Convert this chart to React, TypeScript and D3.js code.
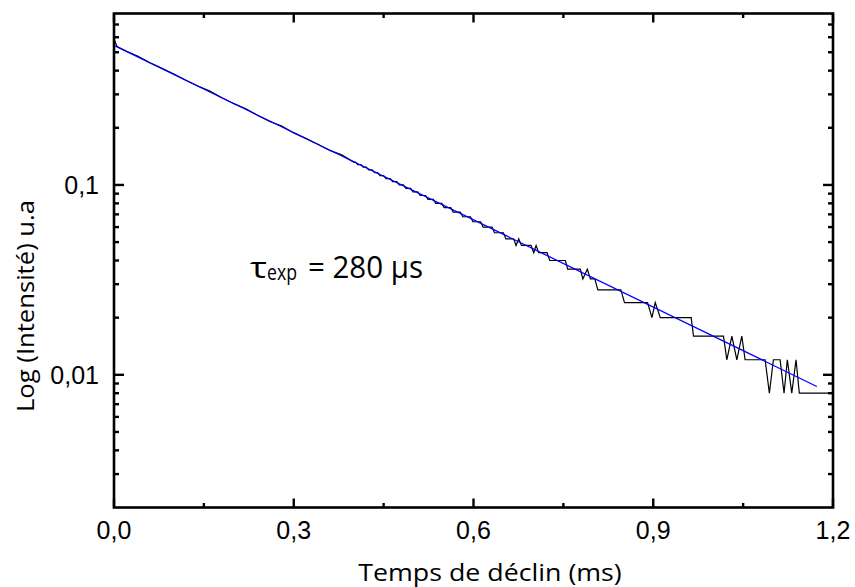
import React from "react";
import * as d3 from "d3";

// Measured decay (time in ms, normalised intensity)
const decayTime = [
  0, 0.005, 0.02, 0.04, 0.06, 0.08, 0.1, 0.12, 0.14, 0.16, 0.18, 0.2, 0.22, 0.24, 0.26, 0.28, 0.3,
  0.32, 0.34, 0.36, 0.38, 0.4, 0.403, 0.407, 0.412, 0.416, 0.421, 0.425, 0.431, 0.435, 0.44, 0.444,
  0.45, 0.454, 0.461, 0.465, 0.472, 0.476, 0.483, 0.487, 0.495, 0.499, 0.507, 0.511, 0.52, 0.524,
  0.533, 0.537, 0.547, 0.551, 0.562, 0.566, 0.578, 0.582, 0.595, 0.599, 0.612, 0.616, 0.631, 0.635,
  0.65, 0.654, 0.667, 0.671, 0.6755, 0.68, 0.696, 0.7005, 0.7045, 0.7088, 0.7228, 0.7272, 0.7533,
  0.7572, 0.7783, 0.7825, 0.79, 0.795, 0.8025, 0.8075, 0.846, 0.852, 0.8905, 0.8978, 0.9033, 0.9117,
  0.9633, 0.9672, 1.0172, 1.0228, 1.0312, 1.0395, 1.0478, 1.0533, 1.0867, 1.0938, 1.1005, 1.1117,
  1.1183, 1.1238, 1.1312, 1.1383, 1.1438, 1.2,
];
const decayIntensity = [
  0.588, 0.536, 0.508, 0.476, 0.44, 0.412, 0.384, 0.356, 0.332, 0.312, 0.288, 0.268, 0.252, 0.232,
  0.216, 0.204, 0.188, 0.176, 0.164, 0.152, 0.144, 0.132, 0.132, 0.128, 0.128, 0.124, 0.124, 0.12,
  0.12, 0.116, 0.116, 0.112, 0.112, 0.108, 0.108, 0.104, 0.104, 0.1, 0.1, 0.096, 0.096, 0.092,
  0.092, 0.088, 0.088, 0.084, 0.084, 0.08, 0.08, 0.076, 0.076, 0.072, 0.072, 0.068, 0.068, 0.064,
  0.064, 0.06, 0.06, 0.056, 0.056, 0.052, 0.052, 0.048, 0.052, 0.048, 0.048, 0.044, 0.048, 0.044,
  0.044, 0.04, 0.04, 0.036, 0.036, 0.032, 0.036, 0.032, 0.032, 0.028, 0.028, 0.024, 0.024, 0.02,
  0.024, 0.02, 0.02, 0.016, 0.016, 0.012, 0.016, 0.012, 0.016, 0.012, 0.012, 0.008, 0.012, 0.012,
  0.008, 0.012, 0.008, 0.012, 0.008, 0.008,
];

// Single-exponential fit (straight line on log axis)
const fitTime = [0, 1.173];
const fitIntensity = [0.543, 0.00868];

const xTicks = [0, 0.15, 0.3, 0.45, 0.6, 0.75, 0.9, 1.05, 1.2];
const xMajor = [0, 0.3, 0.6, 0.9, 1.2];
const xLabels = ["0,0", "0,3", "0,6", "0,9", "1,2"];
const yMajor = [0.01, 0.1];
const yLabels = ["0,01", "0,1"];
const yMinor = [
  0.003, 0.004, 0.005, 0.006, 0.007, 0.008, 0.009, 0.02, 0.03, 0.04, 0.05, 0.06, 0.07, 0.08, 0.09,
  0.2, 0.3, 0.4, 0.5, 0.6, 0.7,
];

const L = 114, R = 833, T = 13.5, B = 507.5;
const titleFont = "'Open Sans', Lato, sans-serif";

export default function App() {
  const x = d3.scaleLinear().domain([0, 1.2]).range([L, R]);
  const y = d3.scaleLog().domain([0.002, 0.8]).range([B, T]);

  const decay = decayTime.map((t, i) => [t, decayIntensity[i]] as [number, number]);
  const fit = fitTime.map((t, i) => [t, fitIntensity[i]] as [number, number]);
  const line = d3
    .line<[number, number]>()
    .x((d) => x(d[0]))
    .y((d) => y(d[1]));

  const tickW = 2.4;
  const isMajorX = (v: number) => xMajor.some((m) => Math.abs(m - v) < 1e-9);

  return (
    <svg
      width={855}
      height={587}
      style={{ position: "absolute", left: 0, top: 0, background: "#fff" }}
    >
      <rect x={0} y={0} width={855} height={587} fill="#fff" />
      {/* data */}
      <path d={line(decay) || ""} fill="none" stroke="#000" strokeWidth={1.2} strokeLinejoin="miter" />
      <path d={line(fit) || ""} fill="none" stroke="#0000ff" strokeWidth={1.3} />

      {/* x ticks bottom and top */}
      {xTicks.map((v) => {
        const len = isMajorX(v) ? 9 : 4.5;
        const px = x(v);
        return (
          <g key={"xt" + v}>
            <line x1={px} x2={px} y1={B} y2={B - len} stroke="#000" strokeWidth={tickW} />
            <line x1={px} x2={px} y1={T} y2={T + len} stroke="#000" strokeWidth={tickW} />
          </g>
        );
      })}
      {/* y ticks left and right */}
      {yMajor.map((v) => (
        <g key={"ym" + v}>
          <line x1={L} x2={L + 10} y1={y(v)} y2={y(v)} stroke="#000" strokeWidth={tickW} />
          <line x1={R} x2={R - 10} y1={y(v)} y2={y(v)} stroke="#000" strokeWidth={tickW} />
        </g>
      ))}
      {yMinor.map((v) => (
        <g key={"yn" + v}>
          <line x1={L} x2={L + 5} y1={y(v)} y2={y(v)} stroke="#000" strokeWidth={tickW} />
          <line x1={R} x2={R - 5} y1={y(v)} y2={y(v)} stroke="#000" strokeWidth={tickW} />
        </g>
      ))}

      {/* frame */}
      <rect x={L} y={T} width={R - L} height={B - T} fill="none" stroke="#000" strokeWidth={2.6} />

      {/* tick labels */}
      {xMajor.map((v, i) => (
        <text
          key={"xl" + v}
          x={x(v)}
          y={538.5}
          textAnchor="middle"
          fontFamily="'Liberation Sans', Arial, sans-serif"
          fontSize={25}
          fill="#000"
        >
          {xLabels[i]}
        </text>
      ))}
      {yMajor.map((v, i) => (
        <text
          key={"yl" + v}
          x={99}
          y={y(v) + 9}
          textAnchor="end"
          fontFamily="'Liberation Sans', Arial, sans-serif"
          fontSize={25}
          fill="#000"
        >
          {yLabels[i]}
        </text>
      ))}

      {/* axis titles */}
      <text
        x={358.3}
        y={580.7}
        fontFamily={titleFont}
        fontSize={24}
        textLength={263.4}
        lengthAdjust="spacingAndGlyphs"
        fill="#000"
      >
        Temps de déclin (ms)
      </text>
      <text
        transform="translate(34,412) rotate(-90)"
        x={0}
        y={0}
        fontFamily={titleFont}
        fontSize={24}
        textLength={212}
        lengthAdjust="spacingAndGlyphs"
        fill="#000"
      >
        Log (Intensité) u.a
      </text>

      {/* annotation */}
      <text
        x={250}
        y={278.3}
        fontFamily={titleFont}
        fontSize={30}
        textLength={17}
        lengthAdjust="spacingAndGlyphs"
        fill="#000"
      >
        τ
      </text>
      <text
        x={267}
        y={279.5}
        fontFamily={titleFont}
        fontSize={21}
        textLength={30}
        lengthAdjust="spacingAndGlyphs"
        fill="#000"
      >
        exp
      </text>
      <text
        x={308}
        y={278.3}
        fontFamily={titleFont}
        fontSize={31}
        textLength={115}
        lengthAdjust="spacingAndGlyphs"
        fill="#000"
      >
        = 280 µs
      </text>
    </svg>
  );
}
